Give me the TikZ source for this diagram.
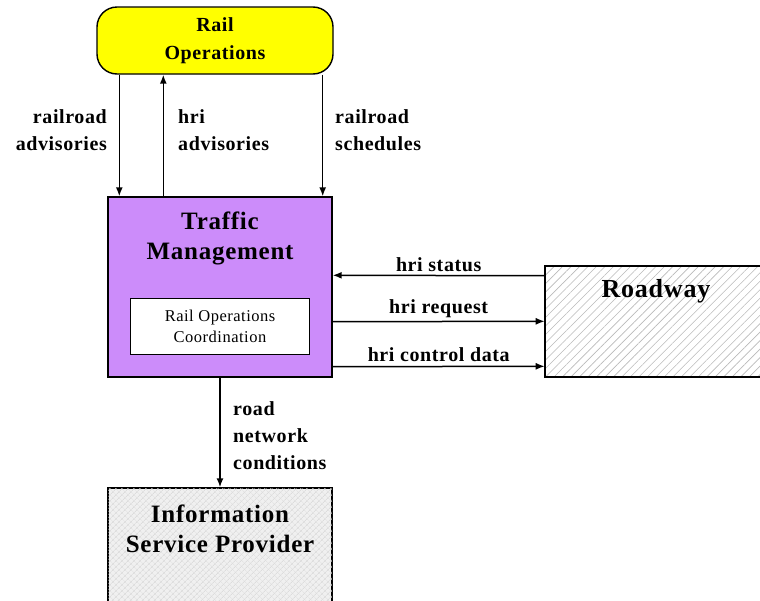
\documentclass[tikz,border=0pt]{standalone}
\usepackage{fontspec}
\setmainfont{Liberation Serif}[LetterSpace=3]
\usetikzlibrary{arrows.meta, patterns.meta, positioning}
\definecolor{railyellow}{RGB}{255,255,0}
\definecolor{tmpurple}{RGB}{204,140,250}

\begin{document}
\begin{tikzpicture}[
    x=1pt, y=-1pt,
    box/.style={draw, rectangle, line width=1.4pt, inner sep=0pt},
    title/.style={align=center, inner sep=0pt, font=\fontsize{25}{30}\selectfont\bfseries},
    flowlabel/.style={align=left, inner sep=0pt, font=\fontsize{20}{27}\selectfont\bfseries},
    arrow/.style={-{Latex[length=9pt, width=7pt]}, line width=1.5pt}
]
    \useasboundingbox (0,0) rectangle (760,600);

    % Terminators and subsystem
    \node (rail) [box, rounded corners=20pt, fill=railyellow, minimum width=236pt, minimum height=67pt,
        align=center, font=\fontsize{20}{28}\selectfont\bfseries] at (215,40.5) {Rail\\Operations};
    \node (tm) [box, fill=tmpurple, minimum width=224pt, minimum height=180pt] at (220,287) {};
    \node (tmtitle) [title, anchor=north] at (220,212) {Traffic\\Management};
    \node (roc) [draw, rectangle, fill=white, line width=0.9pt, minimum width=179pt, minimum height=56pt,
        align=center, font=\fontsize{16.5}{21}\selectfont] at (220,326.5) {Rail Operations\\Coordination};
    \node (road) [box, fill=white, pattern={Lines[angle=45, distance=6pt, line width=0.6pt]}, pattern color=gray!55,
        minimum width=219pt, minimum height=111pt] at (654.5,321.5) {};
    \node (roadtitle) [title, anchor=north, font=\fontsize{26}{30}\selectfont\bfseries] at (656,279) {Roadway};
    \node (isp) [box, fill=gray!12, postaction={pattern={Lines[angle=45, distance=4pt, line width=0.5pt]}, pattern color=gray!35},
        postaction={pattern={Lines[angle=-45, distance=4pt, line width=0.5pt]}, pattern color=gray!25},
        minimum width=224pt, minimum height=118pt] at (220,547) {};
    \node (isptitle) [title, anchor=north] at (220,505) {Information\\Service Provider};

    % Flows to and from Rail Operations
    \draw [arrow] ([xshift=23pt]rail.south west) -- ([xshift=12pt]tm.north west);
    \draw [arrow] ([xshift=56pt]tm.north west) -- ([xshift=67pt]rail.south west);
    \draw [arrow] ([xshift=-11pt]rail.south east) -- ([xshift=-10pt]tm.north east);
    \node (lrailadv) [flowlabel, anchor=north east, align=right] at (107,109) {railroad\\advisories};
    \node (lhriadv) [flowlabel, anchor=north west] at (178,109) {hri\\advisories};
    \node (lrailsch) [flowlabel, anchor=north west] at (335,109) {railroad\\schedules};

    % Flows to and from Roadway
    \draw [arrow] ([yshift=-10pt]road.north west) -- node[flowlabel, above=3pt] {hri status} ([yshift=-79pt]tm.north east);
    \draw [arrow] ([yshift=56pt]tm.south east) -- node[flowlabel, above=3pt] {hri request} ([yshift=56pt]road.south west);
    \draw [arrow] ([yshift=11pt]tm.south east) -- node[flowlabel, above=4pt] {hri control data} ([yshift=11pt]road.south west);

    % Flow to Information Service Provider
    \draw [arrow] (tm.south) -- (isp.north);
    \node (lroadnet) [flowlabel, anchor=north west] at (233,401) {road\\network\\conditions};
\end{tikzpicture}
\end{document}
